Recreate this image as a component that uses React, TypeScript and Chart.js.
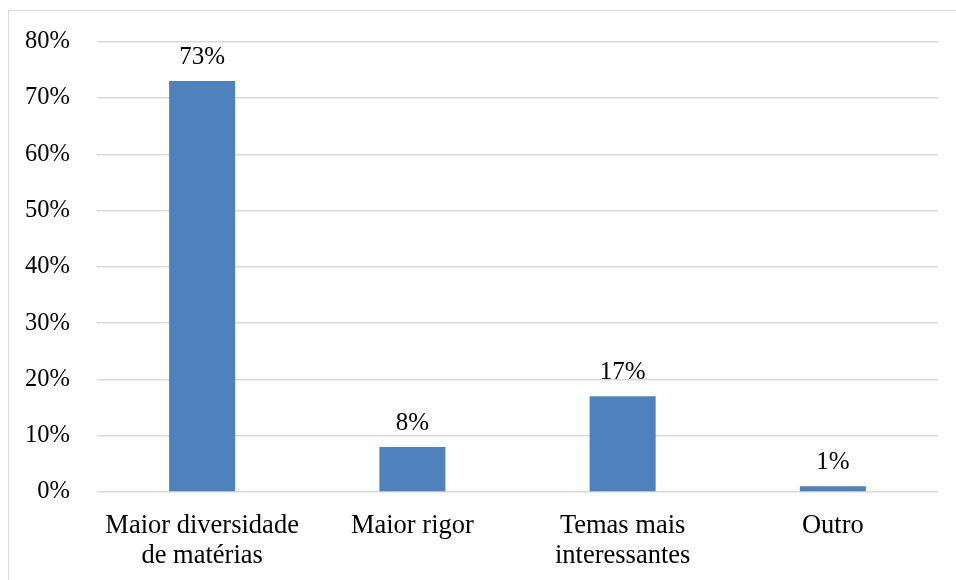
import React, { useEffect, useRef } from "react";
import { Chart, registerables } from "chart.js";

Chart.register(...registerables);

const categories: (string | string[])[] = [
  ["Maior diversidade", "de matérias"],
  "Maior rigor",
  ["Temas mais", "interessantes"],
  "Outro",
];
const values: number[] = [73, 8, 17, 1];
const yTicks: number[] = [0, 10, 20, 30, 40, 50, 60, 70, 80];

const FONT = "'Liberation Serif', 'Times New Roman', serif";
const FS_X = 26.5;
const FS_Y = 24.5;
const FS_LABEL = 25;

const dataLabels = {
  id: "dataLabels",
  afterDatasetsDraw(chart: any) {
    const ctx = chart.ctx;
    const meta = chart.getDatasetMeta(0);
    ctx.save();
    ctx.font = `${FS_LABEL}px ${FONT}`;
    ctx.fillStyle = "#000";
    ctx.textAlign = "center";
    ctx.textBaseline = "alphabetic";
    meta.data.forEach((bar: any, i: number) => {
      ctx.fillText(`${values[i]}%`, bar.x, bar.y - 17);
    });
    ctx.restore();
  },
};

export default function App() {
  const ref = useRef<HTMLCanvasElement>(null);
  useEffect(() => {
    if (!ref.current) return;
    const chart = new Chart(ref.current, {
      type: "bar",
      data: {
        labels: categories,
        datasets: [
          {
            data: values,
            backgroundColor: "#4F81BD",
            borderWidth: 0,
            barPercentage: 1,
            categoryPercentage: 0.314,
          },
        ],
      },
      options: {
        animation: false,
        responsive: false,
        maintainAspectRatio: false,
        layout: { padding: { top: 40, right: 18, left: 0, bottom: 0 } },
        plugins: {
          legend: { display: false },
          tooltip: { enabled: false },
        },
        scales: {
          x: {
            grid: { display: false, drawTicks: false },
            border: { display: false },
            ticks: {
              color: "#000",
              font: { family: FONT, size: FS_X, lineHeight: 1.14 },
              padding: 19,
              maxRotation: 0,
              autoSkip: false,
            },
            afterFit: (s: any) => {
              s.height = 88;
            },
          },
          y: {
            min: 0,
            max: 80,
            afterBuildTicks: (s: any) => {
              s.ticks = yTicks.map((v) => ({ value: v }));
            },
            grid: { color: "#d9d9d9", lineWidth: 1.5, drawTicks: false },
            border: { display: false },
            ticks: {
              color: "#000",
              font: { family: FONT, size: FS_Y },
              padding: 27,
              callback: (v: any) => `${v}%`,
            },
            afterFit: (s: any) => {
              s.width = 97;
            },
          },
        },
      },
      plugins: [dataLabels],
    });
    return () => chart.destroy();
  }, []);
  return (
    <div
      style={{
        position: "fixed",
        left: 0,
        top: 0,
        width: 956,
        height: 580,
        background: "#fff",
        overflow: "hidden",
      }}
    >
      <div
        style={{
          position: "absolute",
          left: 8,
          top: 10,
          width: 1000,
          height: 700,
          borderTop: "1.5px solid #d9d9d9",
          borderLeft: "1.5px solid #d9d9d9",
        }}
      />
      <canvas
        ref={ref}
        width={956}
        height={580}
        style={{ position: "absolute", left: 0, top: 0, width: 956, height: 580 }}
      />
    </div>
  );
}
